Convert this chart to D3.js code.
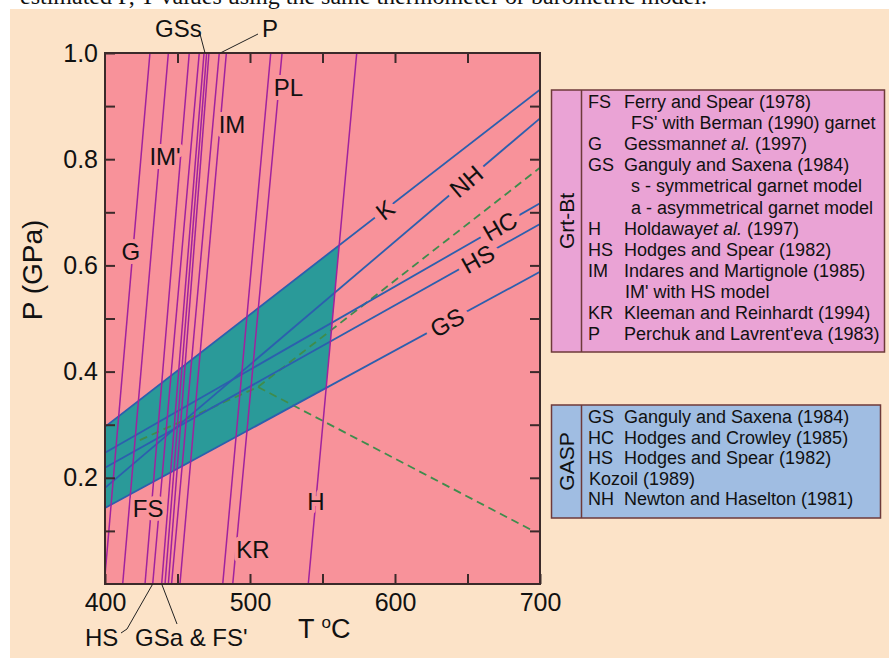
<!DOCTYPE html>
<html>
<head>
<meta charset="utf-8">
<script src="https://cdn.jsdelivr.net/npm/d3@7"></script>
<style>
  body { margin: 0; background: #fff; }
  text { font-family: "Liberation Sans", Arial, Helvetica, sans-serif; fill: #111; }
</style>
</head>
<body>
<div id="chart"></div>
<script>
// Grt-Bt thermometers: T (degC) where each line meets P = 1.0 GPa and P = 0 GPa
const thermoNames = ["G", "IM'", "FS", "HS", "GSs", "GSa", "FS'", "P", "IM", "KR", "PL", "H"];
const thermoTop = [431.0, 443.7, 458.1, 465.0, 468.3, 470.1, 471.7, 478.8, 483.7, 514.3, 522.1, 573.6];
const thermoBottom = [399.5, 412.2, 427.6, 432.9, 439.1, 441.4, 443.7, 445.9, 451.7, 481.2, 488.1, 540.2];

// GASP barometers: P (GPa) at T = 400 and T = 700
const baroNames = ["K", "NH", "HC", "HS", "GS"];
const baroLeft = [0.296, 0.181, 0.247, 0.219, 0.143];
const baroRight = [0.931, 0.877, 0.717, 0.678, 0.588];

// overlap field of the extreme lines
const regionT = [400, 561.5, 552.5, 400];
const regionP = [0.296, 0.638, 0.369, 0.143];

// dashed green paths
const dashUpT = [424, 505.5, 700];
const dashUpP = [0.271, 0.371, 0.784];
const dashDownT = [505.5, 696];
const dashDownP = [0.371, 0.099];

// in-plot labels (T, P)
const thermoLabels = ["G", "IM'", "IM", "PL", "FS", "KR", "H"];
const thermoLabelT = [417.9, 441.4, 487.6, 526.5, 429.7, 502.0, 545.5];
const thermoLabelP = [0.626, 0.805, 0.865, 0.935, 0.143, 0.066, 0.156];
const baroLabelT = [593.1, 649.0, 672.4, 657.2, 635.9];

// legends
const grtCodes = ["FS", "", "G", "GS", "", "", "H", "HS", "IM", "", "KR", "P"];
const grtDescs = ["Ferry and Spear (1978)", "FS' with Berman (1990) garnet", "Gessmann*et al.* (1997)",
  "Ganguly and Saxena (1984)", "s - symmetrical garnet model", "a - asymmetrical garnet model",
  "Holdaway*et al.* (1997)", "Hodges and Spear (1982)", "Indares and Martignole (1985)",
  "IM' with HS model", "Kleeman and Reinhardt (1994)", "Perchuk and Lavrent'eva (1983)"];
const grtIndent = [0, 2, 0, 0, 2, 2, 0, 0, 0, 1, 0, 0];
const gaspCodes = ["GS", "HC", "HS", "", "NH"];
const gaspDescs = ["Ganguly and Saxena (1984)", "Hodges and Crowley (1985)", "Hodges and Spear (1982)",
  "Kozoil (1989)", "Newton and Haselton (1981)"];
const gaspIndent = [0, 0, 0, -1, 0];

const W = 889, H = 658;
const bg = "#fce3c8", plotBg = "#f8929a";
const purple = "#a0229e", blue = "#2c5fae", teal = "#2a9a99", green = "#3f8c4c", ink = "#3b2a2a";

const svg = d3.select("#chart").append("svg")
  .attr("width", W)
  .attr("height", H);

// cut-off caption line from the page above
svg.append("text")
  .attr("x", 20).attr("y", 4)
  .style("font-family", "'Liberation Serif', 'Times New Roman', serif")
  .style("font-size", "24px")
  .text("estimated P, T values using the same thermometer or barometric model.");

svg.append("rect")
  .attr("x", 10).attr("y", 9)
  .attr("width", W - 10).attr("height", H - 9)
  .attr("fill", bg);

const x = d3.scaleLinear().domain([400, 700]).range([105, 540]);
const y = d3.scaleLinear().domain([0, 1]).range([584, 53]);

svg.append("defs").append("clipPath").attr("id", "clip")
  .append("rect")
  .attr("x", x(400)).attr("y", y(1))
  .attr("width", x(700) - x(400)).attr("height", y(0) - y(1));

svg.append("rect")
  .attr("x", x(400)).attr("y", y(1))
  .attr("width", x(700) - x(400)).attr("height", y(0) - y(1))
  .attr("fill", plotBg);

const inner = svg.append("g").attr("clip-path", "url(#clip)");

// overlap polygon
inner.append("path")
  .datum(d3.range(regionT.length))
  .attr("d", d3.line().x(i => x(regionT[i])).y(i => y(regionP[i])).curve(d3.curveLinearClosed))
  .attr("fill", teal);

// dashed lines
[[dashUpT, dashUpP], [dashDownT, dashDownP]].forEach(function (pair) {
  inner.append("path")
    .datum(d3.range(pair[0].length))
    .attr("d", d3.line().x(i => x(pair[0][i])).y(i => y(pair[1][i])))
    .attr("fill", "none")
    .attr("stroke", green)
    .attr("stroke-width", 1.8)
    .attr("stroke-dasharray", "8,5");
});

// barometers
inner.selectAll(".baro")
  .data(baroNames)
  .enter().append("line")
  .attr("class", "baro")
  .attr("x1", x(400)).attr("y1", (d, i) => y(baroLeft[i]))
  .attr("x2", x(700)).attr("y2", (d, i) => y(baroRight[i]))
  .attr("stroke", blue)
  .attr("stroke-width", 1.8);

// thermometers
inner.selectAll(".thermo")
  .data(thermoNames)
  .enter().append("line")
  .attr("class", "thermo")
  .attr("x1", (d, i) => x(thermoTop[i])).attr("y1", y(1))
  .attr("x2", (d, i) => x(thermoBottom[i])).attr("y2", y(0))
  .attr("stroke", purple)
  .attr("stroke-width", 1.5);

// labels with a knock-out halo
inner.selectAll(".tlab")
  .data(thermoLabels)
  .enter().append("text")
  .attr("class", "tlab")
  .attr("x", (d, i) => x(thermoLabelT[i]))
  .attr("y", (d, i) => y(thermoLabelP[i]))
  .attr("dy", "0.36em")
  .attr("text-anchor", "middle")
  .style("font-size", "24px")
  .style("paint-order", "stroke")
  .style("stroke", plotBg)
  .style("stroke-width", 8)
  .style("stroke-linejoin", "round")
  .text(d => d);

inner.selectAll(".blab")
  .data(baroNames)
  .enter().append("text")
  .attr("class", "blab")
  .attr("transform", function (d, i) {
    const t = baroLabelT[i];
    const p = baroLeft[i] + (baroRight[i] - baroLeft[i]) * (t - 400) / 300;
    const ang = Math.atan2(y(baroRight[i]) - y(baroLeft[i]), x(700) - x(400)) * 180 / Math.PI;
    return `translate(${x(t)},${y(p)}) rotate(${ang})`;
  })
  .attr("dy", "0.36em")
  .attr("text-anchor", "middle")
  .style("font-size", "24px")
  .style("paint-order", "stroke")
  .style("stroke", plotBg)
  .style("stroke-width", 14)
  .style("stroke-linejoin", "round")
  .text(d => d);

// axes, ticks pointing inward
const xTicks = d3.range(400, 701, 50);
const yTicks = d3.range(1, 11).map(d => d / 10);

function styleAxis(g) {
  g.select(".domain").remove();
  g.selectAll(".tick line").attr("stroke", ink).attr("stroke-width", 2);
  g.selectAll(".tick text").style("font-size", "25px").attr("fill", "#111");
}

svg.append("g")
  .attr("transform", `translate(0,${y(0)})`)
  .call(d3.axisBottom(x).tickValues(xTicks).tickSize(-10).tickSizeOuter(0).tickPadding(9)
    .tickFormat(d => d % 100 === 0 ? d : ""))
  .call(styleAxis);

svg.append("g")
  .attr("transform", `translate(0,${y(1)})`)
  .call(d3.axisTop(x).tickValues(xTicks.slice(1, -1)).tickSize(-10).tickSizeOuter(0).tickFormat(""))
  .call(styleAxis);

svg.append("g")
  .attr("transform", `translate(${x(400)},0)`)
  .call(d3.axisLeft(y).tickValues(yTicks).tickSize(-10).tickSizeOuter(0).tickPadding(7)
    .tickFormat(d => Math.round(d * 10) % 2 === 0 ? d3.format(".1f")(d) : ""))
  .call(styleAxis);

svg.append("g")
  .attr("transform", `translate(${x(700)},0)`)
  .call(d3.axisRight(y).tickValues(yTicks.slice(0, -1)).tickSize(-10).tickSizeOuter(0).tickFormat(""))
  .call(styleAxis);

svg.append("rect")
  .attr("x", x(400)).attr("y", y(1))
  .attr("width", x(700) - x(400)).attr("height", y(0) - y(1))
  .attr("fill", "none")
  .attr("stroke", ink)
  .attr("stroke-width", 2);

// axis titles
svg.append("text")
  .attr("transform", "translate(42,270) rotate(-90)")
  .attr("text-anchor", "middle")
  .style("font-size", "28px")
  .text("P (GPa)");

const tTitle = svg.append("text")
  .attr("x", 298).attr("y", 638)
  .style("font-size", "27px");
tTitle.append("tspan").text("T ");
tTitle.append("tspan").attr("dy", -10).style("font-size", "17px").text("o");
tTitle.append("tspan").attr("dy", 10).text("C");

// outside labels with leader lines
const leaders = svg.append("g")
  .attr("fill", "none")
  .attr("stroke", "#222")
  .attr("stroke-width", 1);

leaders.append("path").attr("d", d3.line()([[200, 34], [x(thermoTop[4]) + 1, y(1)]]));
leaders.append("path").attr("d", d3.line()([[258, 34], [x(thermoTop[7]) + 1, y(1)]]));
leaders.append("path").attr("d", d3.line()([[121, 633], [127, 629], [x(thermoBottom[3]), y(0)]]));
leaders.append("path").attr("d", d3.line()([[177, 624], [x(thermoBottom[4]), y(0)]]));

svg.append("text").attr("x", 155).attr("y", 37).style("font-size", "24px").text("GSs");
svg.append("text").attr("x", 262).attr("y", 37).style("font-size", "24px").text("P");
svg.append("text").attr("x", 85).attr("y", 646).style("font-size", "24px").text("HS");
svg.append("text").attr("x", 135).attr("y", 646).style("font-size", "24px").text("GSa & FS'");

// legend boxes
const indentX = { "-1": 589, "0": 624, "1": 625, "2": 631 };

function legendBox(top, height, width, fill, title, codes, descs, indents, rowStep) {
  const g = svg.append("g");
  g.append("rect")
    .attr("x", 551.5).attr("y", top)
    .attr("width", width).attr("height", height)
    .attr("fill", fill)
    .attr("stroke", "#6e3a3a")
    .attr("stroke-width", 1.5);
  g.append("line")
    .attr("x1", 581.5).attr("x2", 581.5)
    .attr("y1", top).attr("y2", top + height)
    .attr("stroke", "#6e3a3a")
    .attr("stroke-width", 1.5);
  g.append("text")
    .attr("transform", `translate(574,${top + height / 2}) rotate(-90)`)
    .attr("text-anchor", "middle")
    .style("font-size", "21px")
    .text(title);
  const rows = g.selectAll(".row")
    .data(descs)
    .enter().append("g")
    .attr("class", "row")
    .attr("transform", (d, i) => `translate(0,${top + 18 + i * rowStep})`);
  rows.append("text")
    .attr("x", 588)
    .style("font-size", "18px")
    .text((d, i) => codes[i]);
  rows.append("text")
    .attr("x", (d, i) => indentX[indents[i]])
    .style("font-size", "18px")
    .each(function (d) {
      const parts = d.split("*");
      const t = d3.select(this);
      parts.forEach(function (p, k) {
        t.append("tspan").style("font-style", k % 2 ? "italic" : "normal").text(p);
      });
    });
}

legendBox(90, 262, 333, "#eaa3d5", "Grt-Bt", grtCodes, grtDescs, grtIndent, 21.1);
legendBox(405, 113, 329, "#a0bde2", "GASP", gaspCodes, gaspDescs, gaspIndent, 20.5);
</script>
</body>
</html>
